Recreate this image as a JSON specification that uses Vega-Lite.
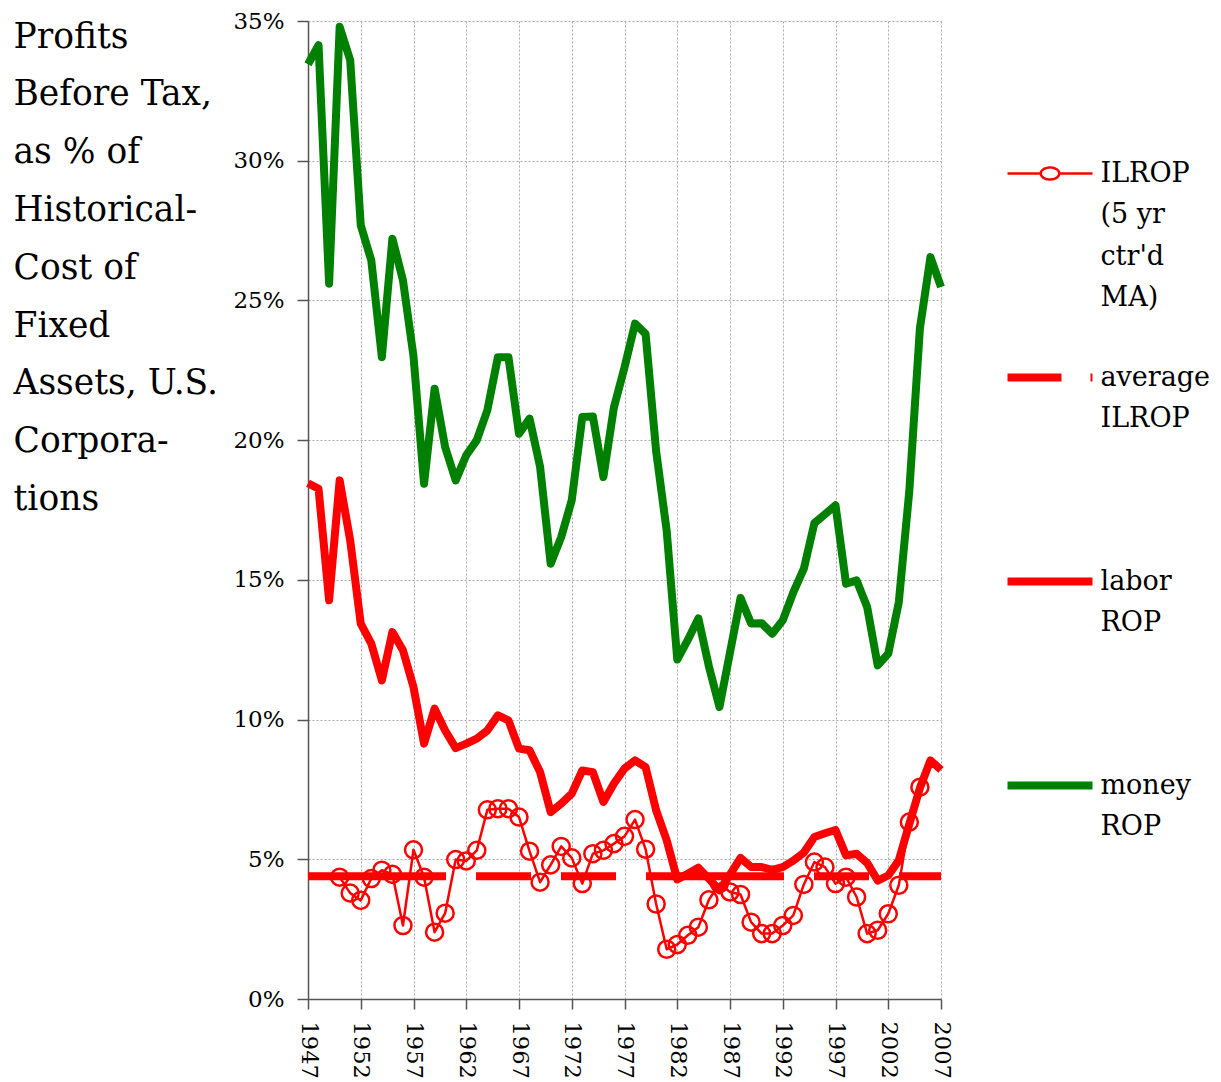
{
  "$schema": "https://vega.github.io/schema/vega-lite/v6.json",
  "width": 633,
  "height": 978,
  "autosize": {"type": "none"},
  "padding": {"left": 308, "top": 21, "right": 280, "bottom": 83},
  "background": "white",
  "config": {"view": {"stroke": null}, "font": "DejaVu Serif"},
  "data": {"values": [
    {"year":1947,"labor":18.46,"money":33.45,"avg":4.39},
    {"year":1948,"labor":18.26,"money":34.13},
    {"year":1949,"labor":14.27,"money":25.6},
    {"year":1950,"ilrop":4.36,"labor":18.56,"money":34.79},
    {"year":1951,"ilrop":3.79,"labor":16.41,"money":33.6},
    {"year":1952,"ilrop":3.53,"labor":13.43,"money":27.69},
    {"year":1953,"ilrop":4.31,"labor":12.72,"money":26.43},
    {"year":1954,"ilrop":4.61,"labor":11.4,"money":22.97},
    {"year":1955,"ilrop":4.46,"labor":13.13,"money":27.21},
    {"year":1956,"ilrop":2.63,"labor":12.48,"money":25.72},
    {"year":1957,"ilrop":5.34,"labor":11.16,"money":23.0},
    {"year":1958,"ilrop":4.36,"labor":9.14,"money":18.44},
    {"year":1959,"ilrop":2.39,"labor":10.39,"money":21.84},
    {"year":1960,"ilrop":3.07,"labor":9.61,"money":19.75},
    {"year":1961,"ilrop":4.99,"labor":8.98,"money":18.56},
    {"year":1962,"ilrop":4.94,"labor":9.14,"money":19.46},
    {"year":1963,"ilrop":5.32,"labor":9.32,"money":20.0},
    {"year":1964,"ilrop":6.77,"labor":9.61,"money":21.07},
    {"year":1965,"ilrop":6.81,"labor":10.15,"money":22.97},
    {"year":1966,"ilrop":6.81,"labor":9.97,"money":22.97},
    {"year":1967,"ilrop":6.51,"labor":8.96,"money":20.23},
    {"year":1968,"ilrop":5.29,"labor":8.9,"money":20.77},
    {"year":1969,"ilrop":4.18,"labor":8.12,"money":19.04},
    {"year":1970,"ilrop":4.8,"labor":6.69,"money":15.58},
    {"year":1971,"ilrop":5.46,"labor":6.99,"money":16.53},
    {"year":1972,"ilrop":5.05,"labor":7.35,"money":17.85},
    {"year":1973,"ilrop":4.13,"labor":8.18,"money":20.83},
    {"year":1974,"ilrop":5.2,"labor":8.12,"money":20.85},
    {"year":1975,"ilrop":5.32,"labor":7.05,"money":18.68},
    {"year":1976,"ilrop":5.56,"labor":7.71,"money":21.18},
    {"year":1977,"ilrop":5.82,"labor":8.25,"money":22.6},
    {"year":1978,"ilrop":6.42,"labor":8.54,"money":24.17},
    {"year":1979,"ilrop":5.36,"labor":8.3,"money":23.8},
    {"year":1980,"ilrop":3.4,"labor":6.75,"money":19.6},
    {"year":1981,"ilrop":1.78,"labor":5.68,"money":16.75},
    {"year":1982,"ilrop":1.95,"labor":4.28,"money":12.15},
    {"year":1983,"ilrop":2.28,"labor":4.48,"money":12.85},
    {"year":1984,"ilrop":2.57,"labor":4.7,"money":13.62},
    {"year":1985,"ilrop":3.55,"labor":4.3,"money":11.9},
    {"year":1986,"ilrop":4.13,"labor":3.89,"money":10.45},
    {"year":1987,"ilrop":3.83,"labor":4.45,"money":12.4},
    {"year":1988,"ilrop":3.74,"labor":5.05,"money":14.35},
    {"year":1989,"ilrop":2.75,"labor":4.72,"money":13.44},
    {"year":1990,"ilrop":2.34,"labor":4.72,"money":13.45},
    {"year":1991,"ilrop":2.34,"labor":4.62,"money":13.07},
    {"year":1992,"ilrop":2.63,"labor":4.72,"money":13.55},
    {"year":1993,"ilrop":2.99,"labor":4.95,"money":14.55},
    {"year":1994,"ilrop":4.1,"labor":5.24,"money":15.4},
    {"year":1995,"ilrop":4.9,"labor":5.8,"money":17.03},
    {"year":1996,"ilrop":4.72,"labor":5.93,"money":17.35},
    {"year":1997,"ilrop":4.13,"labor":6.05,"money":17.67},
    {"year":1998,"ilrop":4.36,"labor":5.14,"money":14.86},
    {"year":1999,"ilrop":3.65,"labor":5.2,"money":14.98},
    {"year":2000,"ilrop":2.34,"labor":4.87,"money":14.03},
    {"year":2001,"ilrop":2.46,"labor":4.24,"money":11.94},
    {"year":2002,"ilrop":3.05,"labor":4.42,"money":12.36},
    {"year":2003,"ilrop":4.07,"labor":4.96,"money":14.2},
    {"year":2004,"ilrop":6.33,"labor":6.27,"money":18.2},
    {"year":2005,"ilrop":7.58,"labor":7.55,"money":24.0},
    {"year":2006,"labor":8.54,"money":26.55},
    {"year":2007,"labor":8.2,"money":25.48,"avg":4.39}
  ]},
  "transform": [
    {"fold": ["ilrop", "avg", "labor", "money"], "as": ["series", "value"]},
    {"filter": {"field": "value", "valid": true}}
  ],
  "encoding": {
    "x": {
      "field": "year", "type": "quantitative",
      "scale": {"domain": [1947, 2007], "nice": false, "zero": false},
      "axis": {
        "values": [1947,1952,1957,1962,1967,1972,1977,1982,1987,1992,1997,2002,2007],
        "format": "d", "title": null,
        "labelAngle": 90, "labelAlign": "left", "labelBaseline": "middle",
        "labelFont": "DejaVu Serif", "labelFontSize": 22.5, "labelColor": "black",
        "labelPadding": 12, "labelFlush": false, "labelOverlap": false,
        "tickSize": 10, "tickColor": "#555555", "tickWidth": 1.5,
        "domainColor": "#555555", "domainWidth": 1.5,
        "grid": true, "gridColor": "#a8a8a8", "gridDash": [2, 2], "gridWidth": 1
      }
    },
    "y": {
      "field": "value", "type": "quantitative",
      "scale": {"domain": [0, 35], "nice": false},
      "axis": {
        "values": [0,5,10,15,20,25,30,35],
        "labelExpr": "datum.value + '%'",
        "labelFont": "DejaVu Serif", "labelFontSize": 23, "labelColor": "black",
        "labelPadding": 13, "tickSize": 11, "tickColor": "#555555", "tickWidth": 1.5,
        "domainColor": "#555555", "domainWidth": 1.5,
        "grid": true, "gridColor": "#a8a8a8", "gridDash": [2, 2], "gridWidth": 1,
        "title": ["Profits", "Before Tax,", "as % of", "Historical-", "Cost of", "Fixed", "Assets, U.S.", "Corpora-", "tions"],
        "titleAngle": 0, "titleAlign": "left", "titleBaseline": "middle",
        "titleX": -295, "titleY": 16,
        "titleFont": "DejaVu Serif", "titleFontSize": 34.5, "titleFontWeight": "normal",
        "titleColor": "black", "titleLineHeight": 57.8
      }
    },
    "color": {
      "field": "series", "type": "nominal",
      "scale": {"domain": ["ilrop", "avg", "labor", "money"], "range": ["#ff0000", "#ff0000", "#ff0000", "#008000"]},
      "legend": {
        "orient": "none", "legendX": 728.5, "legendY": 139,
        "title": null, "direction": "vertical", "padding": 0,
        "symbolSize": 100, "symbolType": "stroke",
        "labelFont": "DejaVu Serif", "labelFontSize": 27, "labelColor": "black",
        "labelOffset": 37, "labelLimit": 0, "rowPadding": 50,
        "labelExpr": "datum.value == 'ilrop' ? ['ILROP', '(5 yr', \"ctr'd\", 'MA)'] : datum.value == 'avg' ? ['average', 'ILROP', '', ''] : datum.value == 'labor' ? ['labor', 'ROP', '', ''] : ['money', 'ROP', '', '']",
        "encode": {
          "symbols": {"update": {
            "shape": {"signal": "datum.value == 'ilrop' ? 'M-8.5,0H-1.85M1.85,0H8.5M1.85,0A1.85,1.2,0,1,1,-1.85,0A1.85,1.2,0,1,1,1.85,0' : datum.value == 'avg' ? 'M-8.5,0H2.3M8.1,0H8.5' : 'M-8.5,0H8.5'"},
            "strokeWidth": {"signal": "datum.value == 'ilrop' ? 2.5 : 8"},
            "fill": {"value": "transparent"},
            "strokeDash": {"value": [1, 0]},
            "opacity": {"value": 1}
          }},
          "labels": {"update": {"lineHeight": {"value": 41.5}}}
        }
      }
    }
  },
  "layer": [
    {
      "transform": [{"filter": "datum.series == 'ilrop'"}],
      "mark": {"type": "line", "strokeJoin": "round", "strokeWidth": 2.5}
    },
    {
      "transform": [{"filter": "datum.series == 'ilrop'"}],
      "mark": {"type": "point", "shape": "circle", "filled": false, "size": 290, "strokeWidth": 2.5, "opacity": 1}
    },
    {
      "transform": [{"filter": "datum.series == 'avg'"}],
      "mark": {"type": "line", "strokeWidth": 8, "strokeDash": [138, 30, 55, 30, 55, 30]}
    },
    {
      "transform": [{"filter": "datum.series == 'labor' || datum.series == 'money'"}],
      "mark": {"type": "line", "strokeJoin": "round", "strokeWidth": 8}
    }
  ]
}
